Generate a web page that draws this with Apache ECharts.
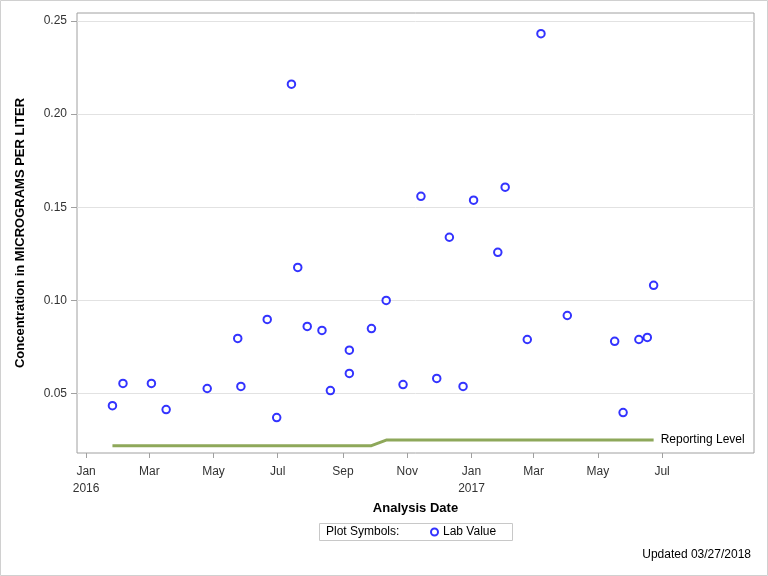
<!DOCTYPE html>
<html><head><meta charset="utf-8">
<script src="https://cdn.jsdelivr.net/npm/echarts@6/dist/echarts.min.js"></script>
<style>html,body{margin:0;padding:0;background:#fff}#c{width:768px;height:576px}</style>
</head><body><div id="c"></div>
<script>
const sampleDates = ['2016-01-26','2016-02-05','2016-03-03','2016-03-17','2016-04-25','2016-05-24','2016-05-27','2016-06-21','2016-06-30','2016-07-14','2016-07-20','2016-07-29','2016-08-12','2016-08-20','2016-09-07','2016-09-07','2016-09-28','2016-10-12','2016-10-28','2016-11-14','2016-11-29','2016-12-11','2016-12-24','2017-01-03','2017-01-26','2017-02-02','2017-02-23','2017-03-08','2017-04-02','2017-05-17','2017-05-25','2017-06-09','2017-06-17','2017-06-23'];
const labValues = [0.0435,0.0554,0.0554,0.0414,0.0527,0.0796,0.0538,0.0898,0.0371,0.2161,0.1177,0.0860,0.0839,0.0516,0.0733,0.0608,0.0849,0.1000,0.0548,0.1559,0.0581,0.1339,0.0538,0.1538,0.1258,0.1608,0.0790,0.2432,0.0919,0.0780,0.0398,0.0790,0.0801,0.1081];
const reportingLevels = [0.022,0.022,0.022,0.022,0.022,0.022,0.022,0.022,0.022,0.022,0.022,0.022,0.022,0.022,0.022,0.022,0.022,0.025,0.025,0.025,0.025,0.025,0.025,0.025,0.025,0.025,0.025,0.025,0.025,0.025,0.025,0.025,0.025,0.025];
const xTickDates = ['2016-01-01','2016-03-01','2016-05-01','2016-07-01','2016-09-01','2016-11-01','2017-01-01','2017-03-01','2017-05-01','2017-07-01'];
const yTicks = [0.05,0.10,0.15,0.20,0.25];
const monthNames = ['Jan','Feb','Mar','Apr','May','Jun','Jul','Aug','Sep','Oct','Nov','Dec'];

function ts(s){const p=s.split('-');return new Date(+p[0],+p[1]-1,+p[2]).getTime();}
const xTicks = xTickDates.map(ts);
const font = '"Liberation Sans", Arial, sans-serif';
const chart = echarts.init(document.getElementById('c'), null, {renderer:'canvas'});
chart.setOption({
  animation:false,
  backgroundColor:'#fff',
  textStyle:{fontFamily:font},
  grid:{left:77,top:13,right:14,bottom:123,show:true,borderColor:'#a0a0a0',borderWidth:1,containLabel:false,outerBoundsMode:'none'},
  xAxis:{
    type:'value', min:new Date(2015,11,23,8).getTime(), max:new Date(2017,8,26,8).getTime(), scale:true,
    name:'Analysis Date', nameLocation:'middle', nameGap:49, nameMoveOverlap:false,
    nameTextStyle:{fontFamily:font,fontSize:13,fontWeight:'bold',color:'#000'},
    axisLine:{show:false},
    axisTick:{show:true,customValues:xTicks,length:5,lineStyle:{color:'#a0a0a0'}},
    axisLabel:{customValues:xTicks,fontFamily:font,fontSize:12,color:'#333',margin:10,lineHeight:17,hideOverlap:false,
      showMinLabel:true,showMaxLabel:true,
      formatter:function(v){const d=new Date(v);const m=monthNames[d.getMonth()];return d.getMonth()===0?m+'\n'+d.getFullYear():m;}},
    splitLine:{show:false}
  },
  yAxis:{
    type:'value', min:0.01807, max:0.2543,
    name:'Concentration in MICROGRAMS PER LITER', nameLocation:'middle', nameGap:50, nameMoveOverlap:false,
    nameTextStyle:{fontFamily:font,fontSize:13,fontWeight:'bold',color:'#000'},
    axisLine:{show:false},
    axisTick:{show:true,customValues:yTicks,length:6,lineStyle:{color:'#a0a0a0'}},
    axisLabel:{customValues:yTicks,fontFamily:font,fontSize:12,color:'#333',margin:10,formatter:function(v){return v.toFixed(2);}},
    splitLine:{show:true,lineStyle:{color:'#e2e2e2',width:1}}
  },
  legend:{
    data:['Lab Value'], left:430, top:526, padding:0, itemWidth:7, itemHeight:7, itemGap:5,
    textStyle:{fontFamily:font,fontSize:12,color:'#000'}, selectedMode:false
  },
  graphic:[
    {type:'rect',shape:{x:0.5,y:0.5,width:767,height:575},style:{fill:'none',stroke:'#d0d0d0',lineWidth:1},silent:true},
    {type:'rect',shape:{x:319.5,y:523.5,width:193,height:17},style:{fill:'none',stroke:'#c8c8c8',lineWidth:1},silent:true},
    {type:'text',x:326,y:532,style:{text:'Plot Symbols:',font:'12px '+font,fill:'#000',verticalAlign:'middle'},silent:true},
    {type:'text',x:751,y:555,style:{text:'Updated 03/27/2018',font:'12px '+font,fill:'#000',align:'right',verticalAlign:'middle'},silent:true}
  ],
  series:[
    {name:'Reporting Level',type:'line',showSymbol:false,symbol:'none',
      data:sampleDates.map(function(d,i){return [ts(d),reportingLevels[i]];}),
      lineStyle:{color:'#8ea85a',width:3},itemStyle:{color:'#8ea85a'},z:2,
      endLabel:{show:true,formatter:'Reporting Level',color:'#000',fontFamily:font,fontSize:12,distance:7}},
    {name:'Lab Value',type:'scatter',symbol:'emptyCircle',symbolSize:7.5,
      data:sampleDates.map(function(d,i){return [ts(d),labValues[i]];}),
      itemStyle:{color:'#0000ff',borderColor:'#0000ff',borderWidth:1.1},z:3}
  ]
});
</script></body></html>
